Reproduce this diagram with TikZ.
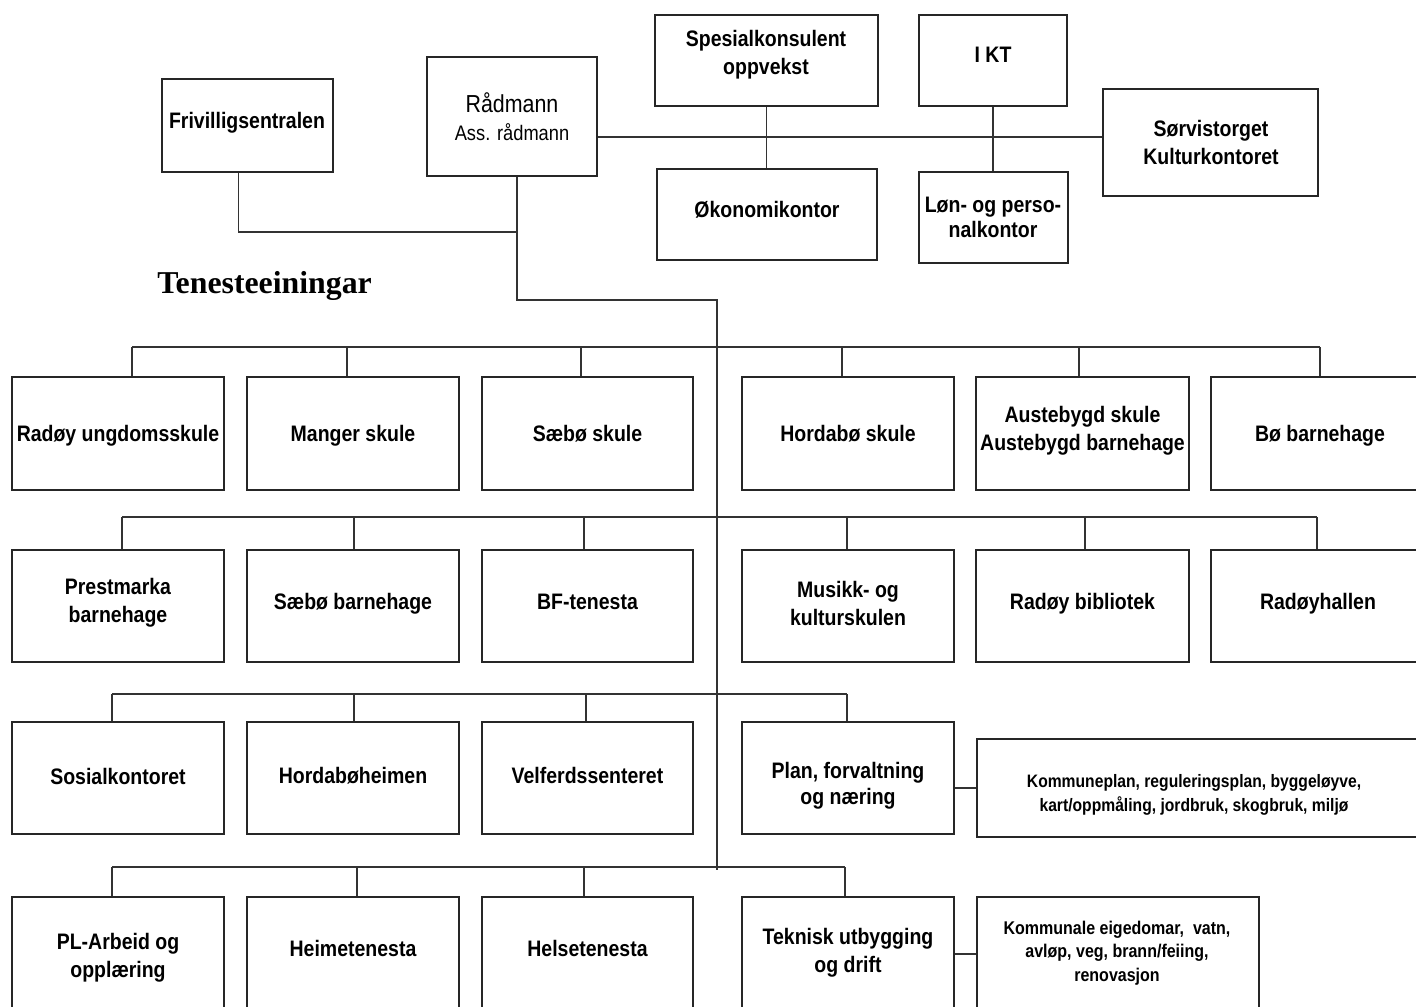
\documentclass[tikz,border=0pt]{standalone}
\usepackage{fontspec}
\setmainfont{Liberation Sans}[FakeStretch=0.87]
\newfontfamily\tnrfont{Liberation Serif}
\usetikzlibrary{calc}
\newcommand\mkbox[5]{%
  \node[boxst, minimum width={(#4-#2)*0.5pt}, minimum height={(#5-#3)*0.5pt}] (#1) at ({(#2+#4)/2},{(#3+#5)/2}) {};}
% box, dx, bus coordinate
\newcommand\tapline[3]{%
  \draw[ln] (#1.north) ++(#2,0) coordinate (tap-#1) -- (tap-#1 |- #3);}
\begin{document}
\begin{tikzpicture}[x=0.5pt,y=-0.5pt,
  boxst/.style={draw=black!85, line width=0.7pt, inner sep=0pt, fill=white},
  ln/.style={draw=black!80, line width=0.55pt},
  bt/.style={font=\fontsize{11.2}{14}\selectfont\bfseries, align=center, inner sep=0pt},
  one/.style={bt, text height=8pt, text depth=0pt},
  st/.style={font=\fontsize{9}{12}\selectfont\bfseries, align=center, inner sep=0pt}]
\useasboundingbox (0,0) rectangle (1416,1006);
\clip (0,0) rectangle (1416,1006);

% ---------- helper coordinates ----------
\coordinate (hubL) at (700,137);
\coordinate (jf) at (517,232);
\coordinate (jt) at (717,300);
\coordinate (trunkend) at (717,870);
\coordinate (bus1) at (717,347);
\coordinate (bus2) at (717,517);
\coordinate (bus3) at (717,694);
\coordinate (bus4) at (717,867);

% ---------- top boxes ----------
\mkbox{friv}{162}{79}{333}{172}
\mkbox{rad}{427}{57}{597}{176}
\mkbox{spes}{655}{15}{878}{106}
\mkbox{ikt}{919}{15}{1067}{106}
\mkbox{sorv}{1103}{89}{1318}{196}
\mkbox{oko}{657}{169}{877}{260}
\mkbox{lon}{919}{172}{1068}{263}

% ---------- rows ----------
\mkbox{r11}{12}{377}{224}{490}
\mkbox{r12}{247}{377}{459}{490}
\mkbox{r13}{482}{377}{693}{490}
\mkbox{r14}{742}{377}{954}{490}
\mkbox{r15}{976}{377}{1189}{490}
\mkbox{r16}{1211}{377}{1425}{490}

\mkbox{r21}{12}{550}{224}{662}
\mkbox{r22}{247}{550}{459}{662}
\mkbox{r23}{482}{550}{693}{662}
\mkbox{r24}{742}{550}{954}{662}
\mkbox{r25}{976}{550}{1189}{662}
\mkbox{r26}{1211}{550}{1425}{662}

\mkbox{r31}{12}{722}{224}{834}
\mkbox{r32}{247}{722}{459}{834}
\mkbox{r33}{482}{722}{693}{834}
\mkbox{r34}{742}{722}{954}{834}
\mkbox{k3}{977}{739}{1425}{837}

\mkbox{r41}{12}{897}{224}{1014}
\mkbox{r42}{247}{897}{459}{1014}
\mkbox{r43}{482}{897}{693}{1014}
\mkbox{r44}{742}{897}{954}{1014}
\mkbox{k4}{977}{897}{1259}{1014}

% ---------- top connectors ----------
\draw[ln] (rad.east |- hubL) -- (sorv.west |- hubL);
\draw[ln] (spes.south) -- (spes.south |- oko.north);
\draw[ln] (ikt.south) -- (ikt.south |- lon.north);
\draw[ln] ($(friv.south)+(-9,0)$) |- (jf);
\draw[ln] ($(rad.south)+(5,0)$) |- (jt) -- (trunkend);

% ---------- row taps ----------
\tapline{r11}{14}{bus1}
\tapline{r12}{-6}{bus1}
\tapline{r13}{-6.5}{bus1}
\tapline{r14}{-6}{bus1}
\tapline{r15}{-3.5}{bus1}
\tapline{r16}{2}{bus1}
\draw[ln] (tap-r11 |- bus1) -- (tap-r16 |- bus1);

\tapline{r21}{4}{bus2}
\tapline{r22}{1}{bus2}
\tapline{r23}{-3.5}{bus2}
\tapline{r24}{-1}{bus2}
\tapline{r25}{2.5}{bus2}
\tapline{r26}{-1}{bus2}
\draw[ln] (tap-r21 |- bus2) -- (tap-r26 |- bus2);

\tapline{r31}{-6}{bus3}
\tapline{r32}{1}{bus3}
\tapline{r33}{-1.5}{bus3}
\tapline{r34}{-1}{bus3}
\draw[ln] (tap-r31 |- bus3) -- (tap-r34 |- bus3);

\tapline{r41}{-6}{bus4}
\tapline{r42}{4}{bus4}
\tapline{r43}{-3.5}{bus4}
\tapline{r44}{-3}{bus4}
\draw[ln] (tap-r41 |- bus4) -- (tap-r44 |- bus4);

\coordinate (c3) at (960,788);
\draw[ln] (r34.east |- c3) -- (k3.west |- c3);
\coordinate (c4) at (960,954);
\draw[ln] (r44.east |- c4) -- (k4.west |- c4);

% ---------- texts ----------
\node[one] (t-friv) at (247,120) {Frivilligsentralen};
\node[inner sep=0pt, font=\fontsize{12.3}{14}\selectfont, text height=8.8pt, text depth=0pt] (t-rad1) at (512,104) {Rådmann};
\node[inner sep=0pt, font=\fontsize{10.5}{12}\selectfont, text height=7.5pt, text depth=0pt] (t-rad2) at (512,133) {Ass. rådmann};
\node[bt] (t-spes) at (766,55) {Spesialkonsulent\\oppvekst};
\node[one] (t-ikt) at (993,55) {I KT};
\node[bt] (t-sorv) at (1211,142) {Sørvistorget\\Kulturkontoret};
\node[one] (t-oko) at (767,209) {Økonomikontor};
\node[bt, font=\fontsize{11.2}{12.5}\selectfont\bfseries] (t-lon) at (993,217) {Løn- og perso-\\nalkontor};

\node[inner sep=0pt, anchor=base west, font=\tnrfont\fontsize{15.9}{18}\selectfont\bfseries] (t-ten) at (157,293) {Tenesteeiningar};

\node[one] (t-r11) at (r11 |- 0,433) {Radøy ungdomsskule};
\node[one] (t-r12) at (r12 |- 0,433) {Manger skule};
\node[one] (t-r13) at (r13 |- 0,433) {Sæbø skule};
\node[one] (t-r14) at (r14 |- 0,433) {Hordabø skule};
\node[bt] (t-r15) at (r15 |- 0,431) {Austebygd skule\\Austebygd barnehage};
\node[one] (t-r16) at (1320,433) {Bø barnehage};

\node[bt] (t-r21) at (r21 |- 0,603) {Prestmarka\\barnehage};
\node[one] (t-r22) at (r22 |- 0,601) {Sæbø barnehage};
\node[one] (t-r23) at (r23 |- 0,601) {BF-tenesta};
\node[bt] (t-r24) at (r24 |- 0,603) {Musikk- og\\kulturskulen};
\node[one] (t-r25) at (r25 |- 0,601) {Radøy bibliotek};
\node[one] (t-r26) at (1318,601) {Radøyhallen};

\node[one] (t-r31) at (r31 |- 0,776) {Sosialkontoret};
\node[one] (t-r32) at (r32 |- 0,775) {Hordabøheimen};
\node[one] (t-r33) at (r33 |- 0,775) {Velferdssenteret};
\node[bt, font=\fontsize{11.2}{13}\selectfont\bfseries] (t-r34) at (r34 |- 0,786) {Plan, forvaltning\\og næring};
\node[st] (t-k3) at (1194,795) {Kommuneplan, reguleringsplan, byggeløyve,\\kart/oppmåling, jordbruk, skogbruk, miljø};

\node[bt] (t-r41) at (r41 |- 0,958) {PL-Arbeid og\\opplæring};
\node[one] (t-r42) at (r42 |- 0,948) {Heimetenesta};
\node[one] (t-r43) at (r43 |- 0,948) {Helsetenesta};
\node[bt] (t-r44) at (r44 |- 0,953) {Teknisk utbygging\\og drift};
\node[st, font=\fontsize{9.2}{11.8}\selectfont\bfseries] (t-k4) at (1117,953) {Kommunale eigedomar,\ \ vatn,\\avløp, veg, brann/feiing,\\renovasjon};
\end{tikzpicture}
\end{document}
